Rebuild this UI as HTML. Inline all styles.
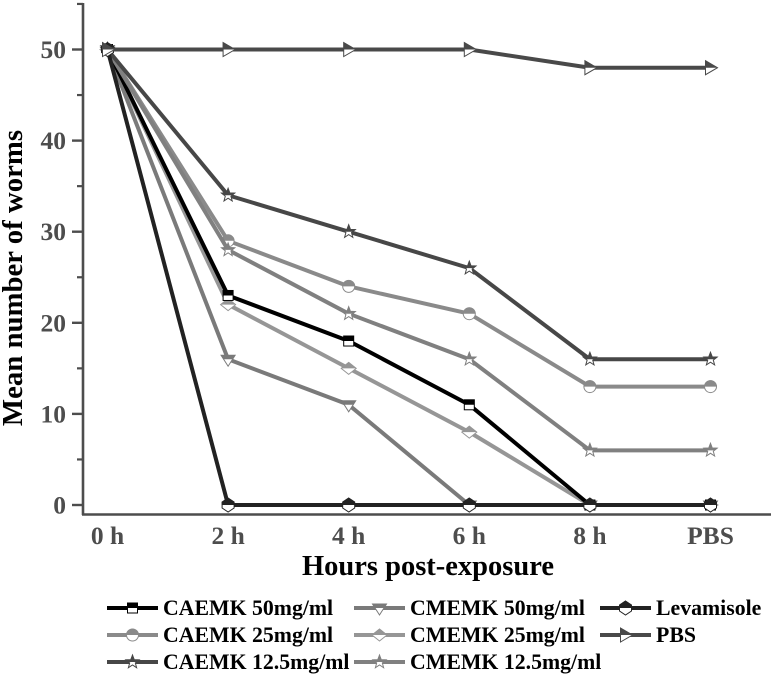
<!DOCTYPE html>
<html>
<head>
<meta charset="utf-8">
<title>Mean number of worms</title>
<style>
html,body{margin:0;padding:0;background:#fff;}
svg{display:block;font-family:"Liberation Serif",serif;font-weight:bold;}
</style>
</head>
<body>
<svg id="chart" width="774" height="677" viewBox="0 0 774 677" xmlns="http://www.w3.org/2000/svg">
<defs>
<clipPath id="upper-half"><rect x="-20" y="-20" width="40" height="20"/></clipPath>
<filter id="soft" x="-5%" y="-5%" width="110%" height="110%"><feGaussianBlur stdDeviation="0.35"/></filter>
</defs>
<g id="root" filter="url(#soft)"></g>
</svg>
<script>
const categories = ["0 h", "2 h", "4 h", "6 h", "8 h", "PBS"];
const yTickLabels = [0, 10, 20, 30, 40, 50];
const yMinorTicks = [5, 15, 25, 35, 45, 55];
const caemk50 = [50, 23, 18, 11, 0, 0];
const cmemk50 = [50, 16, 11, 0, 0, 0];
const caemk25 = [50, 29, 24, 21, 13, 13];
const cmemk25 = [50, 22, 15, 8, 0, 0];
const caemk125 = [50, 34, 30, 26, 16, 16];
const cmemk125 = [50, 28, 21, 16, 6, 6];
const levamisole = [50, 0, 0, 0, 0, 0];
const pbs = [50, 50, 50, 50, 48, 48];

const NS = "http://www.w3.org/2000/svg";
const root = document.getElementById("root");
const xScale = i => 107.5 + i * 120.6;
const yScale = v => 505 - v * 9.11;

function mk(tag, attrs, parent) {
  const el = document.createElementNS(NS, tag);
  for (const k in attrs) el.setAttribute(k, attrs[k]);
  (parent || root).appendChild(el);
  return el;
}

function starPoints(R, r) {
  const p = [];
  for (let i = 0; i < 10; i++) {
    const a = -Math.PI / 2 + i * Math.PI / 5;
    const d = i % 2 ? r : R;
    p.push((d * Math.cos(a)).toFixed(2) + "," + (d * Math.sin(a)).toFixed(2));
  }
  return p.join(" ");
}

const shapes = {
  square: s => ["rect", {x: -s, y: -s, width: 2 * s, height: 2 * s}],
  circle: s => ["circle", {cx: 0, cy: 0, r: s + 1}],
  triangleDown: s => ["polygon", {points: `${-s - 2},${-s + 1} ${s + 2},${-s + 1} 0,${s + 2}`}],
  diamond: s => ["polygon", {points: `0,${-s - 1} ${s + 2.5},0 0,${s + 1} ${-s - 2.5},0`}],
  star: s => ["polygon", {points: starPoints(s + 2, (s + 2) * 0.42)}],
  hexagon: s => ["polygon", {points: `0,${-s - 1} ${s},${-s / 2} ${s},${s / 2} 0,${s + 1} ${-s},${s / 2} ${-s},${-s / 2}`}],
  triangleRight: s => ["polygon", {points: `${-s},${-s - 2} ${s + 2},0 ${-s},${s + 2}`}]
};

function marker(parent, shape, cx, cy, size, color) {
  const g = mk("g", {transform: `translate(${cx},${cy})`}, parent);
  
  
  const [tag, attrs] = shapes[shape](size);
  mk(tag, Object.assign({fill: "#fff", stroke: color, "stroke-width": 1}, attrs), g);
  mk(tag, Object.assign({fill: color, stroke: color, "stroke-width": 0.6, "clip-path": "url(#upper-half)"}, attrs), g);
}

const series = [
  {name: "caemk-50", label: "CAEMK 50mg/ml", values: caemk50, color: "#000000", shape: "square", size: 5, col: 0, row: 0},
  {name: "cmemk-50", label: "CMEMK 50mg/ml", values: cmemk50, color: "#7a7a7a", shape: "triangleDown", size: 5, col: 1, row: 0},
  {name: "levamisole", label: "Levamisole", values: levamisole, color: "#222222", shape: "hexagon", size: 6, col: 2, row: 0},
  {name: "caemk-25", label: "CAEMK 25mg/ml", values: caemk25, color: "#8a8a8a", shape: "circle", size: 5, col: 0, row: 1},
  {name: "cmemk-25", label: "CMEMK 25mg/ml", values: cmemk25, color: "#969696", shape: "diamond", size: 5, col: 1, row: 1},
  {name: "pbs", label: "PBS", values: pbs, color: "#4a4a4a", shape: "triangleRight", size: 5, col: 2, row: 1},
  {name: "caemk-12-5", label: "CAEMK 12.5mg/ml", values: caemk125, color: "#474747", shape: "star", size: 5, col: 0, row: 2},
  {name: "cmemk-12-5", label: "CMEMK 12.5mg/ml", values: cmemk125, color: "#808080", shape: "star", size: 5, col: 1, row: 2}
];
const drawOrder = ["cmemk-25", "cmemk-50", "caemk-50", "caemk-25", "cmemk-12-5", "caemk-12-5", "levamisole", "pbs"];

const axisColor = "#4d4d4d";

// Axes
const yAxis = mk("line", {x1: 83, x2: 83, y1: 3, y2: 515, stroke: axisColor, "stroke-width": 2.6});


const xAxis = mk("line", {x1: 82, x2: 771, y1: 514.5, y2: 514.5, stroke: axisColor, "stroke-width": 2.4});



yTickLabels.forEach(v => {
  const tick = mk("line", {x1: 72, x2: 83, y1: yScale(v), y2: yScale(v), stroke: axisColor, "stroke-width": 2.4});
  
  
  const t = mk("text", {x: 66, y: yScale(v) + 8.5, "text-anchor": "end", "font-size": 25.5, fill: axisColor});
  t.textContent = v;
  
  
});
yMinorTicks.forEach(v => {
  const tick = mk("line", {x1: 77, x2: 83, y1: yScale(v), y2: yScale(v), stroke: axisColor, "stroke-width": 2.2});
  
  
});
categories.forEach((c, i) => {
  const t = mk("text", {x: xScale(i), y: 544, "text-anchor": "middle", "font-size": 25.5, fill: axisColor});
  t.textContent = c;
  
  
});

const xTitle = mk("text", {x: 428, y: 575, "text-anchor": "middle", "font-size": 28.5, fill: "#000"});
xTitle.textContent = "Hours post-exposure";


const yTitle = mk("text", {x: 0, y: 0, transform: "translate(22,278) rotate(-90)", "text-anchor": "middle", "font-size": 28.8, fill: "#000"});
yTitle.textContent = "Mean number of worms";



// Series
drawOrder.forEach(name => {
  const s = series.find(d => d.name === name);
  const g = mk("g", {});
  
  
  const pts = s.values.map((v, i) => xScale(i) + "," + yScale(v)).join(" ");
  const line = mk("polyline", {points: pts, fill: "none", stroke: s.color, "stroke-width": 4, "stroke-linejoin": "round"}, g);
  
  
  s.values.forEach((v, i) => marker(g, s.shape, xScale(i), yScale(v), s.size, s.color));
});

// Legend
const colX = [107, 354, 600];
const rowY = [608, 635, 662];
series.forEach(s => {
  const g = mk("g", {});
  
  
  const x = colX[s.col], y = rowY[s.row];
  mk("line", {x1: x, x2: x + 51, y1: y, y2: y, stroke: s.color, "stroke-width": 4}, g);
  marker(g, s.shape, x + 25.5, y, s.size, s.color);
  const t = mk("text", {x: x + 56, y: y + 7, "font-size": 21.8, fill: "#000"}, g);
  t.textContent = s.label;
});
</script>
</body>
</html>
